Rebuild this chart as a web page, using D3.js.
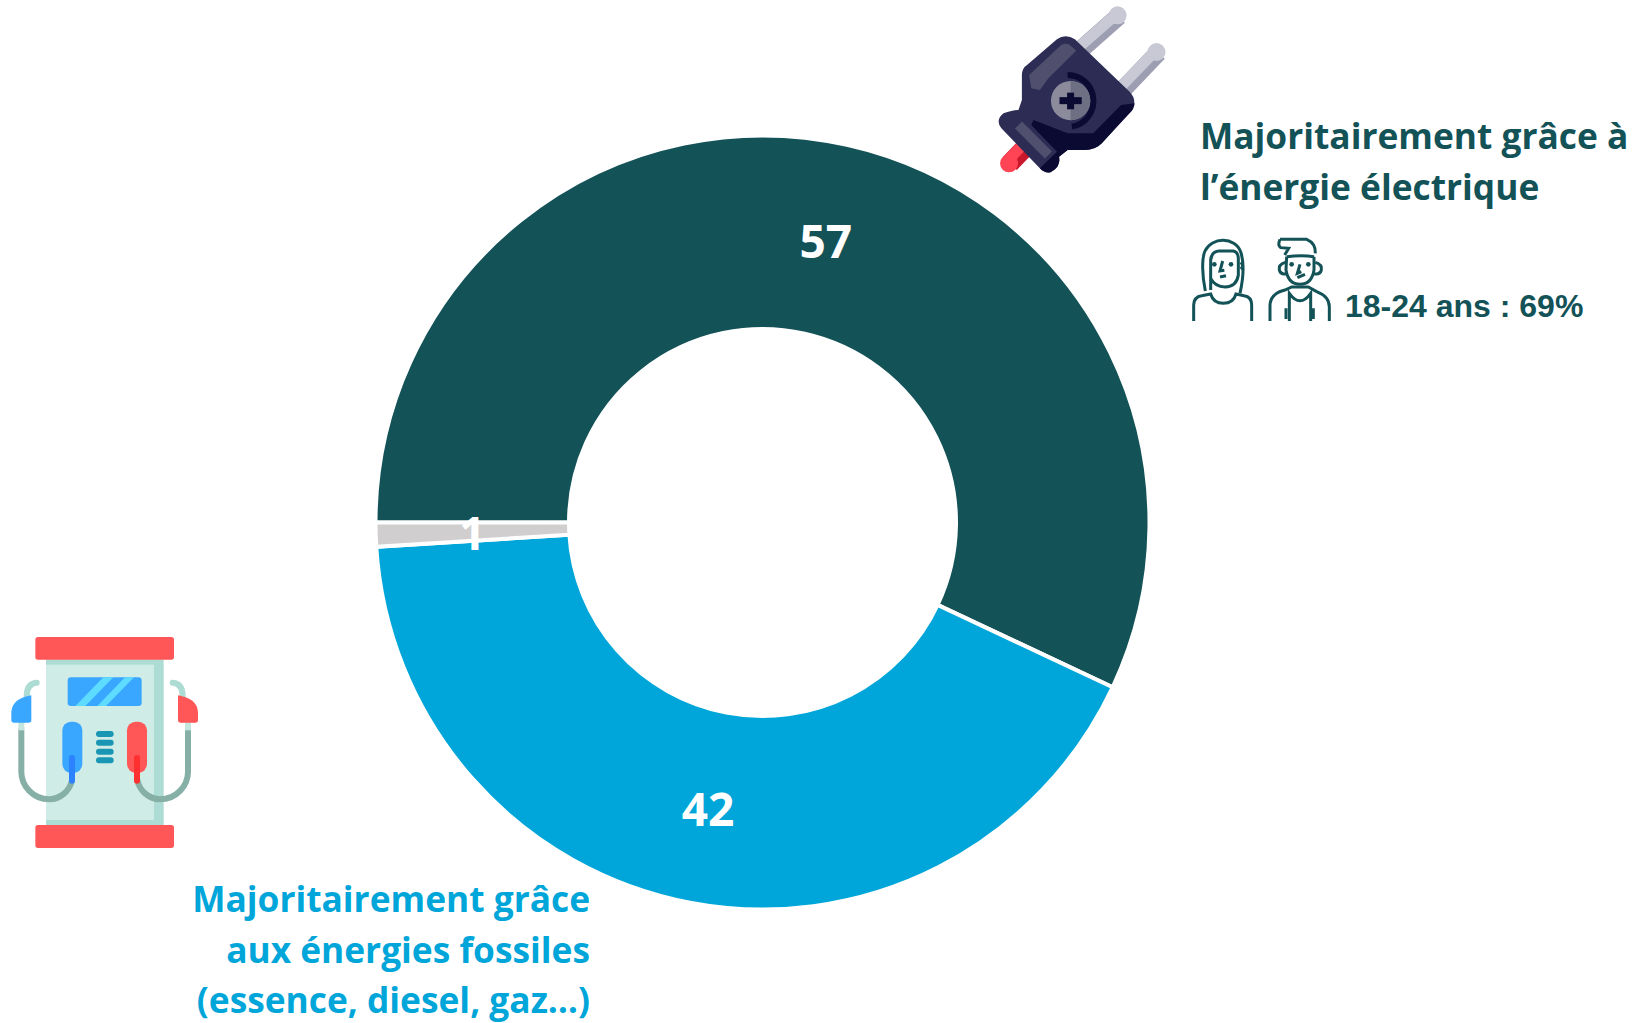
<!DOCTYPE html>
<html><head><meta charset="utf-8">
<style>html,body{margin:0;padding:0;background:#fff;overflow:hidden}</style>
<script src="https://cdn.jsdelivr.net/npm/d3@7/dist/d3.min.js"></script>
</head><body><svg id="c" width="1647" height="1023"></svg>
<script>
const categories=["Majoritairement grâce à l’énergie électrique","Majoritairement grâce aux énergies fossiles (essence, diesel, gaz…)","Ne sait pas"];
const values=[57,42,1];
const colours=["#135257","#00a6d9","#d0cece"];
const elecLines=["Majoritairement grâce à","l’énergie électrique"];
const fossilLines=["Majoritairement grâce","aux énergies fossiles","(essence, diesel, gaz…)"];
const ageNote="18-24 ans : 69%";

const svg=d3.select("#c");
const cx=762.5,cy=522.5,R=387,r=193.5;
const pie=d3.pie().sort(null).value(d=>d).startAngle(-Math.PI/2).endAngle(1.5*Math.PI);
const arc=d3.arc().outerRadius(R).innerRadius(r);
const g=svg.append("g").attr("transform",`translate(${cx},${cy})`);
const arcs=pie(values);
g.selectAll("path").data(arcs).join("path").attr("d",arc).attr("fill",(d,i)=>colours[i]).attr("stroke","#fff").attr("stroke-width",4);
g.selectAll("text").data(arcs).join("text").attr("transform",d=>`translate(${arc.centroid(d)})`)
 .attr("text-anchor","middle").attr("dy","0.41em").attr("fill","#fff").attr("font-family","Open Sans").attr("font-weight",700).attr("font-size",46).text(d=>d.data);

function lines(arr,x,ys,anchor,col){
  svg.append("g").selectAll("text").data(arr).join("text").attr("x",x).attr("y",(d,i)=>ys[i]).attr("text-anchor",anchor)
   .attr("fill",col).attr("font-family","Open Sans").attr("font-weight",700).attr("font-size",35.3).text(d=>d);
}
lines(elecLines,1200,[149,200],"start",colours[0]);
lines(fossilLines,590,[912,963,1013],"end",colours[1]);
svg.append("text").attr("x",1345).attr("y",317).attr("fill",colours[0]).attr("font-family","Liberation Sans").attr("font-weight",700).attr("font-size",32).text(ageNote);

// plug icon (drawn in zoom-crop coordinates)
const plug=svg.append("g").attr("transform","translate(980,0) scale(0.4274,0.3333)");
const P=(s,f)=>plug.append("path").attr("d",s).attr("fill",f);
const L=(x1,y1,x2,y2,c,w)=>plug.append("line").attr("x1",x1).attr("y1",y1).attr("x2",x2).attr("y2",y2).attr("stroke",c).attr("stroke-width",w).attr("vector-effect","non-scaling-stroke");
const cap=(cxp,cyp,f,rad)=>plug.append("ellipse").attr("cx",cxp).attr("cy",cyp).attr("rx",rad/0.4274).attr("ry",rad/0.3333).attr("fill",f);
L(70,490,115,430,"#c9172b",19);L(62,485,100,435,"#ff4555",11);cap(68,490,"#ff4555",9);
L(235,150,325,48,"#9e9eb3",18);L(228,145,318,44,"#c9c9d6",11);cap(322,46,"#c9c9d6",9);
L(330,275,417,158,"#9e9eb3",18);L(322,270,410,153,"#c9c9d6",11);cap(413,156,"#c9c9d6",9);
P("M180,118 Q200,100 222,118 L350,275 Q372,305 350,335 L285,430 Q270,450 245,450 L205,450 L185,470 Q190,500 165,517 Q150,520 140,505 L50,385 Q35,360 55,340 Q75,330 90,330 L98,300 L98,225 Q98,205 110,195 Z","#2c2c54");
P("M362,310 Q360,330 350,340 L285,430 Q270,450 245,450 L205,450 L185,470 Q190,500 165,517 Q150,520 140,505 L180,455 L120,375 L125,360 L205,400 L265,400 L330,315 Z","#0a0a33");
L(90,375,160,465,"#50506e",10);
P("M190,135 Q205,125 215,140 L225,152 L160,235 L140,270 L120,265 L115,225 Z","#50506e");
plug.append("path").attr("d","M205,225 A60,78 0 0 1 215,380").attr("fill","none").attr("stroke","#0a0a33").attr("stroke-width",6).attr("vector-effect","non-scaling-stroke");
plug.append("ellipse").attr("cx",212).attr("cy",302).attr("rx",46).attr("ry",59).attr("fill","#8b8b9c");
plug.append("path").attr("d","M212,243 A46,59 0 0 1 212,361 Z").attr("fill","#6f6f84");
L(212,278,212,328,"#0a0a33",7);L(186,302,238,302,"#0a0a33",7);

// pump icon (zoom crop 0,620 at 3x)
const pump=svg.append("g").attr("transform","translate(0,620) scale(0.33333)");
const rect=(x,y,w,h,f,rx=0)=>pump.append("rect").attr("x",x).attr("y",y).attr("width",w).attr("height",h).attr("fill",f).attr("rx",rx);
const stroke=(d,c,w)=>pump.append("path").attr("d",d).attr("fill","none").attr("stroke",c).attr("stroke-width",w).attr("stroke-linecap","round");
rect(138,118,353,498,"#acdcd3");rect(138,134,324,466,"#d0ece6");
rect(106,51,416,68,"#ff5757",8);rect(106,615,416,69,"#ff5757",8);
rect(203,172,222,86,"#39a6ff",10);
pump.append("path").attr("d","M226,258 L310,172 L340,172 L256,258 Z M292,258 L375,172 L402,172 L318,258 Z").attr("fill","#5edcff");
rect(187,305,60,153,"#39a6ff",26);rect(381,305,60,153,"#ff5757",26);
[342,368,395,421].forEach(y=>rect(288,y-9,53,18,"#1a96b5",9));
stroke("M64,330 L64,450 A84,84 0 0 0 148,538 A72,72 0 0 0 216,480","#86b0a6",18);
stroke("M564,330 L564,450 A84,84 0 0 1 480,538 A72,72 0 0 1 412,480","#86b0a6",18);
stroke("M216,414 L216,482","#2c82ff",18);stroke("M411,414 L411,482","#ff3030",18);
rect(55,305,18,26,"#c5e6de");rect(555,305,18,26,"#c5e6de");
stroke("M80,230 Q80,190 110,188","#acdcd3",18);stroke("M548,230 Q548,190 518,188","#acdcd3",18);
pump.append("path").attr("d","M94,226 L94,300 Q94,308 86,308 L42,308 Q34,308 34,300 L34,275 Q38,235 94,226 Z").attr("fill","#39a6ff");
pump.append("path").attr("d","M534,226 L534,300 Q534,308 542,308 L586,308 Q594,308 594,300 L594,275 Q590,235 534,226 Z").attr("fill","#ff5757");

// people icons (zoom crop 1170,225 at 3x)
const ppl=svg.append("g").attr("transform","translate(1170,225) scale(0.33333)").attr("fill","none").attr("stroke",colours[0]).attr("stroke-width",9);
const ps=(d)=>ppl.append("path").attr("d",d);
const dot=(x,y)=>ppl.append("circle").attr("cx",x).attr("cy",y).attr("r",7).attr("fill",colours[0]).attr("stroke","none");
ps("M106,198 C96,150 95,100 105,78 C125,35 195,35 212,80 C222,110 220,160 210,205");
ps("M122,195 L122,105 Q125,78 148,78 L190,78 Q204,80 205,100 L205,150 Q200,185 165,186 Q135,185 122,160");
ps("M71,288 L71,240 Q72,215 95,212 L122,207 Q130,235 160,235 Q190,235 198,207 L222,212 Q245,215 245,240 L245,288");
ps("M158,108 L150,138 L163,136 M150,156 L168,152");
dot(133,118);dot(183,118);
ps("M212,112 Q224,122 212,132");
ps("M350,95 L348,135 Q355,178 390,178 Q425,178 432,135 L432,95");
ps("M350,95 Q395,90 432,95");
ps("M330,43 L410,43 Q438,55 436,85 M330,43 Q322,60 332,68 L356,70 L344,90");
ps("M346,112 Q325,118 328,135 Q332,150 350,146 M436,112 Q457,118 454,135 Q450,150 432,146");
ps("M300,288 L300,240 Q302,205 345,195 L365,186 L415,186 L440,200 Q478,215 478,245 L478,288");
ps("M358,288 L358,205 Q390,250 422,205 L422,288");
ps("M348,250 L348,282 M430,250 L430,282");
ps("M390,118 L382,145 L394,140 M382,158 L405,148");
dot(365,118);dot(415,118);
</script></body></html>
